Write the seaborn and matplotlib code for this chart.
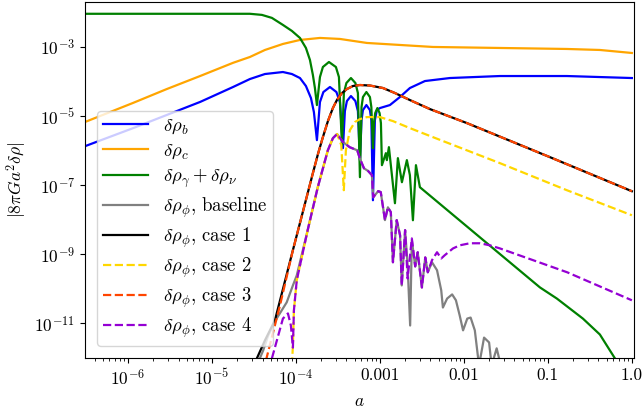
import numpy as np
import matplotlib
matplotlib.use("Agg")
import matplotlib.pyplot as plt
import seaborn as sns
from matplotlib.ticker import FuncFormatter, NullLocator, FixedLocator

# values, stored as log10(a) and log10(|8 pi G a^2 drho|)
b_la = [-6.51, -5.94, -5.54, -5.14, -4.75, -4.548, -4.369, -4.155, -4.048, -3.952, -3.881,
        -3.821, -3.786, -3.75, -3.714, -3.673, -3.595, -3.518, -3.476, -3.44, -3.417, -3.393,
        -3.345, -3.292, -3.262, -3.238, -3.219, -3.202, -3.161, -3.119, -3.102, -3.083, -3.06,
        -3.036, -3.0, -2.881, -2.762, -2.643, -2.464, -2.167, -1.571, -0.774, 0.0]
b_lr = [-5.87, -5.35, -4.97, -4.59, -4.16, -3.928, -3.783, -3.725, -3.783, -3.899, -4.13,
        -4.478, -4.884, -5.696, -4.594, -4.304, -4.159, -4.304, -4.594, -5.928, -4.855, -4.565,
        -4.42, -4.565, -4.855, -6.275, -5.116, -4.826, -4.681, -4.826, -5.116, -7.435, -5.116,
        -4.826, -4.768, -4.681, -4.449, -4.188, -3.986, -3.899, -3.841, -3.841, -3.899]

c_la = [-6.51, -5.94, -5.54, -5.14, -4.75, -4.548, -4.369, -4.155, -3.952, -3.714, -3.476,
        -3.155, -2.762, -2.369, -1.571, -0.774, -0.381, 0.0]
c_lr = [-5.17, -4.62, -4.22, -3.84, -3.46, -3.29, -3.087, -2.913, -2.797, -2.739, -2.768,
        -2.884, -2.942, -3.0, -3.029, -3.058, -3.087, -3.174]

g_la = [-6.51, -4.548, -4.405, -4.286, -4.155, -4.048, -3.952, -3.881, -3.833, -3.798, -3.774,
        -3.75, -3.714, -3.679, -3.607, -3.524, -3.488, -3.452, -3.429, -3.399, -3.345, -3.292,
        -3.262, -3.238, -3.219, -3.202, -3.161, -3.119, -3.102, -3.083, -3.071, -3.056, -3.03,
        -3.004, -2.988, -2.976, -2.929, -2.917, -2.893, -2.821, -2.786, -2.738, -2.679, -2.643,
        -2.607, -2.571, -2.524, -1.81, -1.095, -0.893, -0.583, -0.381, -0.202, -0.083]
g_lr = [-2.04, -2.04, -2.072, -2.159, -2.362, -2.536, -2.739, -3.029, -3.377, -3.812, -4.188,
        -4.681, -3.87, -3.58, -3.435, -3.58, -3.87, -5.841, -4.333, -4.043, -3.899, -4.043,
        -4.333, -6.768, -4.739, -4.449, -4.304, -4.449, -4.739, -5.928, -5.203, -4.913, -4.768,
        -4.913, -5.203, -6.42, -6.072, -6.275, -5.899, -7.522, -6.217, -6.913, -6.275, -6.71,
        -8.014, -6.42, -7.058, -8.507, -9.957, -10.28, -10.86, -11.32, -12.01, -12.65]

base_la = [-4.45, -4.39, -4.33, -4.23, -4.11, -4.036, -3.99, -3.86, -3.74, -3.62, -3.56, -3.51,
           -3.44, -3.36, -3.27, -3.24, -3.19, -3.14, -3.095, -3.08, -3.06, -3.02, -2.99, -2.94,
           -2.905, -2.87, -2.845, -2.80, -2.76, -2.74, -2.70, -2.67, -2.64, -2.62, -2.58, -2.55,
           -2.50, -2.46, -2.43, -2.38, -2.32, -2.27, -2.25, -2.20, -2.14, -2.095, -2.05, -2.01,
           -1.96, -1.92, -1.87, -1.82, -1.76, -1.70, -1.67, -1.61, -1.56]
base_lr = [-12.13, -11.78, -11.35, -10.86, -10.39, -9.90, -9.61, -8.30, -7.06, -5.99, -5.64, -5.52,
           -5.75, -5.90, -5.99, -6.22, -6.51, -6.59, -6.71, -7.35, -7.29, -7.17, -7.20, -8.01,
           -7.64, -7.78, -9.23, -8.01, -8.45, -9.90, -8.30, -9.32, -11.06, -8.59, -9.35, -8.94,
           -9.96, -9.09, -9.52, -9.23, -9.46, -10.04, -10.54, -10.28, -10.16, -10.33, -10.77, -11.20,
           -10.86, -10.83, -11.20, -12.22, -11.41, -11.55, -12.22, -11.72, -12.22]

c1_la = [-4.476, -4.369, -4.25, -4.036, -3.798, -3.738, -3.679, -3.619, -3.56, -3.512, -3.452,
         -3.393, -3.321, -3.238, -3.119, -2.964, -2.821, -2.643, -2.405, -1.964, -0.976, 0.0]
c1_lr = [-12.07, -11.49, -10.91, -8.88, -6.65, -6.101, -5.609, -5.145, -4.768, -4.536, -4.333,
         -4.217, -4.13, -4.101, -4.116, -4.188, -4.333, -4.536, -4.797, -5.203, -6.188, -7.174]

c2_la = [-4.048, -4.036, -4.024, -3.99, -3.86, -3.74, -3.62, -3.56, -3.51, -3.46, -3.43, -3.405,
         -3.357, -3.298, -3.238, -3.155, -3.0, -2.845, -2.643, -2.369, -1.571, -0.774, 0.0]
c2_lr = [-12.22, -11.64, -10.62, -9.75, -8.30, -7.06, -5.99, -5.64, -5.52, -5.84, -7.145, -5.986,
         -5.406, -5.174, -5.087, -5.029, -5.029, -5.145, -5.348, -5.609, -6.362, -7.145, -7.87]

c3_la = [-4.357, -4.19, -4.036, -3.798, -3.738, -3.679, -3.619, -3.56, -3.512, -3.452, -3.393,
         -3.321, -3.238, -3.119, -2.964, -2.821, -2.643, -2.405, -1.964, -0.976, 0.0]
c3_lr = [-12.07, -10.48, -8.88, -6.65, -6.101, -5.609, -5.145, -4.768, -4.536, -4.333, -4.217,
         -4.13, -4.101, -4.116, -4.188, -4.333, -4.536, -4.797, -5.203, -6.188, -7.174]

c4_la = [-4.286, -4.155, -4.095, -4.06, -4.036, -4.024, -3.99, -3.86, -3.74, -3.62, -3.56, -3.51,
         -3.44, -3.36, -3.27, -3.24, -3.19, -3.14, -3.095, -3.08, -3.06, -3.02, -2.99, -2.94,
         -2.905, -2.87, -2.845, -2.80, -2.76, -2.74, -2.70, -2.67, -2.62, -2.58, -2.55, -2.50,
         -2.46, -2.43, -2.38, -2.32, -2.27, -2.23, -2.13, -2.05, -1.93, -1.81, -1.69, -1.57,
         -0.77, 0.0]
c4_lr = [-12.01, -10.86, -10.71, -11.06, -11.70, -10.62, -9.75, -8.30, -7.06, -5.99, -5.64, -5.52,
         -5.75, -5.90, -5.99, -6.22, -6.51, -6.59, -6.71, -7.35, -7.29, -7.17, -7.20, -8.01,
         -7.64, -7.78, -9.23, -8.01, -8.45, -9.90, -8.30, -9.70, -8.54, -9.35, -8.94, -9.96,
         -9.09, -9.52, -9.17, -8.94, -9.12, -9.03, -8.83, -8.74, -8.68, -8.68, -8.74, -8.83,
         -9.52, -10.33]

labels = [r"$\delta\rho_b$", r"$\delta\rho_c$", r"$\delta\rho_\gamma + \delta\rho_\nu$",
          r"$\delta\rho_\phi$, baseline", r"$\delta\rho_\phi$, case 1",
          r"$\delta\rho_\phi$, case 2", r"$\delta\rho_\phi$, case 3", r"$\delta\rho_\phi$, case 4"]
x_ticks = [1e-6, 1e-5, 1e-4, 1e-3, 1e-2, 1e-1, 1.0]
y_ticks = [1e-11, 1e-9, 1e-7, 1e-5, 1e-3]

plt.rcParams["font.family"] = "serif"
plt.rcParams["font.serif"] = ["cmr10", "DejaVu Serif"]
plt.rcParams["mathtext.fontset"] = "cm"
plt.rcParams["axes.formatter.use_mathtext"] = True
plt.rcParams["font.size"] = 12.5

fig = plt.figure(figsize=(6.42, 4.15), dpi=100)
ax = fig.add_axes([85 / 642, 1 - 358 / 415, 549 / 642, 356 / 415])
ax.set_xscale("log")
ax.set_yscale("log")

series = [
    (b_la, b_lr, "blue", "-"),
    (c_la, c_lr, "orange", "-"),
    (g_la, g_lr, "green", "-"),
    (base_la, base_lr, "gray", "-"),
    (c1_la, c1_lr, "black", "-"),
    (c2_la, c2_lr, "gold", "--"),
    (c3_la, c3_lr, "orangered", "--"),
    (c4_la, c4_lr, "darkviolet", "--"),
]
for (la, lr, col, ls), lab in zip(series, labels):
    sns.lineplot(x=10 ** np.array(la), y=10 ** np.array(lr), ax=ax, color=col, lw=1.6,
                 linestyle=ls, label=lab, sort=False, estimator=None)

ax.set_xlim(3.08e-7, 1.06)
ax.set_ylim(1e-12, 2e-2)
ax.xaxis.set_major_locator(FixedLocator(x_ticks))
ax.yaxis.set_major_locator(FixedLocator(y_ticks))
ax.yaxis.set_minor_locator(NullLocator())


def xfmt(v, pos):
    if v < 5e-4:
        return r"$10^{%d}$" % round(np.log10(v))
    if v >= 1:
        return "1.0"
    return "%g" % v


ax.xaxis.set_major_formatter(FuncFormatter(xfmt))
ax.set_xlabel(r"$a$")
ax.set_ylabel(r"$|8\pi G a^2\delta\rho|$")
ax.legend(loc="lower left", fontsize=13.5, handlelength=2.4, labelspacing=0.3,
          borderpad=0.3, borderaxespad=0.65)

fig.savefig("out.png", dpi=100)
